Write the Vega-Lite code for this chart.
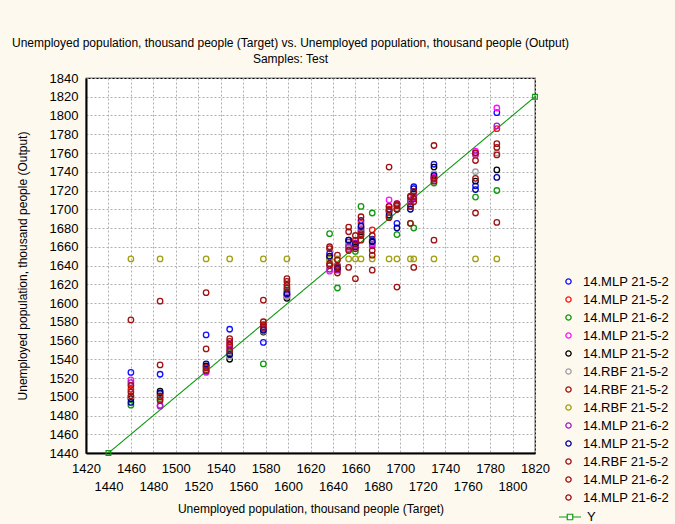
{
  "$schema": "https://vega.github.io/schema/vega-lite/v6.json",
  "width": 449,
  "height": 375,
  "autosize": {"type": "none"},
  "padding": {"left": 86, "top": 78, "right": 140, "bottom": 71},
  "background": "#fdf9ef",
  "config": {
    "view": {"fill": "#ffffff", "stroke": "#000000", "strokeWidth": 1.2},
    "font": "Liberation Sans"
  },
  "title": {
    "text": ["Unemployed population, thousand people (Target) vs. Unemployed population, thousand people (Output)", "Samples: Test"],
    "font": "Liberation Sans",
    "fontSize": 12,
    "fontWeight": "normal",
    "color": "#000000",
    "anchor": "middle",
    "frame": "group",
    "dx": -20,
    "offset": 6,
    "lineHeight": 16
  },
  "datasets": {
    "yline": [
      {"t": 1440, "o": 1440, "k": "Y"},
      {"t": 1820, "o": 1820, "k": "Y"}
    ],
    "pts": [
      {"s":1,"t":1460,"o":1526},{"s":1,"t":1486,"o":1524},{"s":1,"t":1527,"o":1566},{"s":1,"t":1548,"o":1572},{"s":1,"t":1578,"o":1558},{"s":1,"t":1599,"o":1612},{"s":1,"t":1637,"o":1653},{"s":1,"t":1644,"o":1640},{"s":1,"t":1654,"o":1662},{"s":1,"t":1660,"o":1660},{"s":1,"t":1665,"o":1688},{"s":1,"t":1675,"o":1668},{"s":1,"t":1690,"o":1697},{"s":1,"t":1697,"o":1685},{"s":1,"t":1709,"o":1703},{"s":1,"t":1712,"o":1724},{"s":1,"t":1730,"o":1748},{"s":1,"t":1767,"o":1725},{"s":1,"t":1786,"o":1803},
      {"s":2,"t":1460,"o":1508},{"s":2,"t":1486,"o":1503},{"s":2,"t":1527,"o":1532},{"s":2,"t":1548,"o":1553},{"s":2,"t":1578,"o":1576},{"s":2,"t":1599,"o":1609},{"s":2,"t":1637,"o":1650},{"s":2,"t":1644,"o":1636},{"s":2,"t":1654,"o":1665},{"s":2,"t":1660,"o":1662},{"s":2,"t":1665,"o":1685},{"s":2,"t":1675,"o":1678},{"s":2,"t":1690,"o":1700},{"s":2,"t":1697,"o":1704},{"s":2,"t":1709,"o":1708},{"s":2,"t":1712,"o":1716},{"s":2,"t":1730,"o":1734},{"s":2,"t":1767,"o":1760},{"s":2,"t":1786,"o":1786},
      {"s":3,"t":1460,"o":1491},{"s":3,"t":1486,"o":1498},{"s":3,"t":1527,"o":1529},{"s":3,"t":1548,"o":1547},{"s":3,"t":1578,"o":1535},{"s":3,"t":1599,"o":1614},{"s":3,"t":1637,"o":1674},{"s":3,"t":1644,"o":1616},{"s":3,"t":1654,"o":1660},{"s":3,"t":1660,"o":1655},{"s":3,"t":1665,"o":1703},{"s":3,"t":1675,"o":1696},{"s":3,"t":1690,"o":1692},{"s":3,"t":1697,"o":1673},{"s":3,"t":1709,"o":1685},{"s":3,"t":1712,"o":1680},{"s":3,"t":1730,"o":1728},{"s":3,"t":1767,"o":1713},{"s":3,"t":1786,"o":1720},
      {"s":4,"t":1460,"o":1518},{"s":4,"t":1486,"o":1491},{"s":4,"t":1527,"o":1526},{"s":4,"t":1548,"o":1557},{"s":4,"t":1578,"o":1573},{"s":4,"t":1599,"o":1607},{"s":4,"t":1637,"o":1634},{"s":4,"t":1644,"o":1638},{"s":4,"t":1654,"o":1658},{"s":4,"t":1660,"o":1664},{"s":4,"t":1665,"o":1680},{"s":4,"t":1675,"o":1663},{"s":4,"t":1690,"o":1710},{"s":4,"t":1697,"o":1706},{"s":4,"t":1709,"o":1710},{"s":4,"t":1712,"o":1712},{"s":4,"t":1730,"o":1734},{"s":4,"t":1767,"o":1762},{"s":4,"t":1786,"o":1808},
      {"s":5,"t":1460,"o":1498},{"s":5,"t":1486,"o":1506},{"s":5,"t":1527,"o":1533},{"s":5,"t":1548,"o":1540},{"s":5,"t":1578,"o":1569},{"s":5,"t":1599,"o":1605},{"s":5,"t":1637,"o":1648},{"s":5,"t":1644,"o":1639},{"s":5,"t":1654,"o":1667},{"s":5,"t":1660,"o":1660},{"s":5,"t":1665,"o":1676},{"s":5,"t":1675,"o":1665},{"s":5,"t":1690,"o":1699},{"s":5,"t":1697,"o":1700},{"s":5,"t":1709,"o":1706},{"s":5,"t":1712,"o":1718},{"s":5,"t":1730,"o":1745},{"s":5,"t":1767,"o":1730},{"s":5,"t":1786,"o":1742},
      {"s":6,"t":1460,"o":1500},{"s":6,"t":1486,"o":1502},{"s":6,"t":1527,"o":1530},{"s":6,"t":1548,"o":1543},{"s":6,"t":1578,"o":1570},{"s":6,"t":1599,"o":1607},{"s":6,"t":1637,"o":1645},{"s":6,"t":1644,"o":1640},{"s":6,"t":1654,"o":1663},{"s":6,"t":1660,"o":1662},{"s":6,"t":1665,"o":1680},{"s":6,"t":1675,"o":1667},{"s":6,"t":1690,"o":1698},{"s":6,"t":1697,"o":1702},{"s":6,"t":1709,"o":1707},{"s":6,"t":1712,"o":1715},{"s":6,"t":1730,"o":1738},{"s":6,"t":1767,"o":1740},{"s":6,"t":1786,"o":1760},
      {"s":7,"t":1460,"o":1582},{"s":7,"t":1486,"o":1602},{"s":7,"t":1527,"o":1611},{"s":7,"t":1548,"o":1562},{"s":7,"t":1578,"o":1603},{"s":7,"t":1599,"o":1626},{"s":7,"t":1637,"o":1660},{"s":7,"t":1644,"o":1651},{"s":7,"t":1654,"o":1681},{"s":7,"t":1660,"o":1626},{"s":7,"t":1665,"o":1692},{"s":7,"t":1675,"o":1672},{"s":7,"t":1690,"o":1745},{"s":7,"t":1697,"o":1617},{"s":7,"t":1709,"o":1714},{"s":7,"t":1712,"o":1638},{"s":7,"t":1730,"o":1768},{"s":7,"t":1767,"o":1752},{"s":7,"t":1786,"o":1770},
      {"s":8,"t":1460,"o":1647},{"s":8,"t":1486,"o":1647},{"s":8,"t":1527,"o":1647},{"s":8,"t":1548,"o":1647},{"s":8,"t":1578,"o":1647},{"s":8,"t":1599,"o":1647},{"s":8,"t":1637,"o":1647},{"s":8,"t":1644,"o":1647},{"s":8,"t":1654,"o":1647},{"s":8,"t":1660,"o":1647},{"s":8,"t":1665,"o":1647},{"s":8,"t":1675,"o":1647},{"s":8,"t":1690,"o":1647},{"s":8,"t":1697,"o":1647},{"s":8,"t":1709,"o":1647},{"s":8,"t":1712,"o":1647},{"s":8,"t":1730,"o":1647},{"s":8,"t":1767,"o":1647},{"s":8,"t":1786,"o":1647},
      {"s":9,"t":1460,"o":1515},{"s":9,"t":1486,"o":1490},{"s":9,"t":1527,"o":1527},{"s":9,"t":1548,"o":1551},{"s":9,"t":1578,"o":1572},{"s":9,"t":1599,"o":1609},{"s":9,"t":1637,"o":1636},{"s":9,"t":1644,"o":1635},{"s":9,"t":1654,"o":1660},{"s":9,"t":1660,"o":1661},{"s":9,"t":1665,"o":1678},{"s":9,"t":1675,"o":1661},{"s":9,"t":1690,"o":1703},{"s":9,"t":1697,"o":1705},{"s":9,"t":1709,"o":1708},{"s":9,"t":1712,"o":1714},{"s":9,"t":1730,"o":1732},{"s":9,"t":1767,"o":1758},{"s":9,"t":1786,"o":1789},
      {"s":10,"t":1460,"o":1494},{"s":10,"t":1486,"o":1504},{"s":10,"t":1527,"o":1535},{"s":10,"t":1548,"o":1545},{"s":10,"t":1578,"o":1571},{"s":10,"t":1599,"o":1610},{"s":10,"t":1637,"o":1650},{"s":10,"t":1644,"o":1637},{"s":10,"t":1654,"o":1667},{"s":10,"t":1660,"o":1663},{"s":10,"t":1665,"o":1682},{"s":10,"t":1675,"o":1666},{"s":10,"t":1690,"o":1694},{"s":10,"t":1697,"o":1680},{"s":10,"t":1709,"o":1700},{"s":10,"t":1712,"o":1722},{"s":10,"t":1730,"o":1736},{"s":10,"t":1767,"o":1721},{"s":10,"t":1786,"o":1734},
      {"s":11,"t":1460,"o":1512},{"s":11,"t":1486,"o":1534},{"s":11,"t":1527,"o":1551},{"s":11,"t":1548,"o":1549},{"s":11,"t":1578,"o":1580},{"s":11,"t":1599,"o":1623},{"s":11,"t":1637,"o":1658},{"s":11,"t":1644,"o":1646},{"s":11,"t":1654,"o":1676},{"s":11,"t":1660,"o":1672},{"s":11,"t":1665,"o":1672},{"s":11,"t":1675,"o":1656},{"s":11,"t":1690,"o":1703},{"s":11,"t":1697,"o":1706},{"s":11,"t":1709,"o":1685},{"s":11,"t":1712,"o":1719},{"s":11,"t":1730,"o":1667},{"s":11,"t":1767,"o":1696},{"s":11,"t":1786,"o":1686},
      {"s":12,"t":1460,"o":1505},{"s":12,"t":1486,"o":1500},{"s":12,"t":1527,"o":1531},{"s":12,"t":1548,"o":1555},{"s":12,"t":1578,"o":1577},{"s":12,"t":1599,"o":1616},{"s":12,"t":1637,"o":1642},{"s":12,"t":1644,"o":1639},{"s":12,"t":1654,"o":1656},{"s":12,"t":1660,"o":1667},{"s":12,"t":1665,"o":1667},{"s":12,"t":1675,"o":1651},{"s":12,"t":1690,"o":1699},{"s":12,"t":1697,"o":1704},{"s":12,"t":1709,"o":1713},{"s":12,"t":1712,"o":1708},{"s":12,"t":1730,"o":1730},{"s":12,"t":1767,"o":1733},{"s":12,"t":1786,"o":1758},
      {"s":13,"t":1460,"o":1501},{"s":13,"t":1486,"o":1496},{"s":13,"t":1527,"o":1528},{"s":13,"t":1548,"o":1559},{"s":13,"t":1578,"o":1574},{"s":13,"t":1599,"o":1619},{"s":13,"t":1637,"o":1640},{"s":13,"t":1644,"o":1632},{"s":13,"t":1654,"o":1638},{"s":13,"t":1660,"o":1658},{"s":13,"t":1665,"o":1674},{"s":13,"t":1675,"o":1635},{"s":13,"t":1690,"o":1691},{"s":13,"t":1697,"o":1700},{"s":13,"t":1709,"o":1703},{"s":13,"t":1712,"o":1711},{"s":13,"t":1730,"o":1733},{"s":13,"t":1767,"o":1760},{"s":13,"t":1786,"o":1766}
    ]
  },
  "encoding": {
    "x": {
      "field": "t", "type": "quantitative",
      "scale": {"domain": [1420, 1820], "nice": false, "zero": false},
      "axis": {
        "values": [1420,1440,1460,1480,1500,1520,1540,1560,1580,1600,1620,1640,1660,1680,1700,1720,1740,1760,1780,1800,1820],
        "format": "d",
        "title": "Unemployed population, thousand people (Target)",
        "titleFont": "Liberation Sans", "titleFontSize": 12, "titleFontWeight": "normal", "titleColor": "#000000", "titlePadding": 10,
        "labelFont": "Liberation Sans", "labelFontSize": 13, "labelColor": "#000000",
        "labelExpr": "datum.value % 40 == 20 ? datum.label : ['', datum.label]",
        "labelLineHeight": 18, "labelBaseline": "top",
        "labelPadding": 9, "labelFlush": false, "labelOverlap": false, "labelBound": false,
        "ticks": false, "domainColor": "#000000", "domainWidth": 2,
        "grid": true, "gridColor": "#b0b0b0", "gridDash": [2, 2], "gridWidth": 1
      }
    },
    "y": {
      "field": "o", "type": "quantitative",
      "scale": {"domain": [1440, 1840], "nice": false, "zero": false},
      "axis": {
        "values": [1440,1460,1480,1500,1520,1540,1560,1580,1600,1620,1640,1660,1680,1700,1720,1740,1760,1780,1800,1820,1840],
        "format": "d",
        "title": "Unemployed population, thousand people (Output)",
        "titleFont": "Liberation Sans", "titleFontSize": 12, "titleFontWeight": "normal", "titleColor": "#000000", "titlePadding": 20,
        "labelFont": "Liberation Sans", "labelFontSize": 13, "labelColor": "#000000",
        "labelPadding": 8, "labelOverlap": false, "labelBound": false, "labelFlush": false,
        "ticks": false, "domainColor": "#000000", "domainWidth": 2,
        "grid": true, "gridColor": "#b0b0b0", "gridDash": [2, 2], "gridWidth": 1
      }
    }
  },
  "layer": [
    {
      "data": {"name": "yline"},
      "mark": {"type": "line", "color": "#109910", "strokeWidth": 1.1},
      "encoding": {
        "strokeDash": {
          "field": "k", "type": "nominal",
          "scale": {"domain": ["Y"], "range": [[1, 0]]},
          "legend": {
            "orient": "none", "legendX": 472, "legendY": 427, "title": null, "padding": 0,
            "symbolType": "M-1,0L-0.25,0M0.25,0L1,0M-0.25,-0.25L0.25,-0.25L0.25,0.25L-0.25,0.25Z",
            "symbolSize": 484, "symbolStrokeColor": "#109910", "symbolStrokeWidth": 1.2, "symbolFillColor": "#ffffff",
            "labelFont": "Liberation Sans", "labelFontSize": 13, "labelColor": "#000000", "labelOffset": 5
          }
        }
      }
    },
    {
      "data": {"name": "yline"},
      "mark": {"type": "point", "shape": "square", "filled": false, "color": "#109910", "size": 22, "strokeWidth": 1.2, "opacity": 1},
      "encoding": {}
    },
    {
      "data": {"name": "pts"},
      "mark": {"type": "point", "shape": "circle", "filled": false, "size": 30, "strokeWidth": 1.3, "opacity": 1},
      "encoding": {
        "color": {
          "field": "s", "type": "nominal",
          "scale": {
            "domain": [1,2,3,4,5,6,7,8,9,10,11,12,13],
            "range": ["#1010ff","#ff1010","#109910","#ff10ff","#000000","#a0a0a0","#a01010","#a0a010","#a020c0","#000099","#a01010","#a01010","#a01010"]
          },
          "legend": {
            "orient": "none", "legendX": 476, "legendY": 197, "title": null, "padding": 0,
            "labelExpr": "['', '14.MLP 21-5-2', '14.MLP 21-5-2', '14.MLP 21-6-2', '14.MLP 21-5-2', '14.MLP 21-5-2', '14.RBF 21-5-2', '14.RBF 21-5-2', '14.RBF 21-5-2', '14.MLP 21-6-2', '14.MLP 21-5-2', '14.RBF 21-5-2', '14.MLP 21-6-2', '14.MLP 21-6-2'][datum.value]",
            "labelFont": "Liberation Sans", "labelFontSize": 13, "labelColor": "#000000", "labelOffset": 8, "labelLimit": 300,
            "rowPadding": 4, "symbolType": "circle", "symbolSize": 28, "symbolStrokeWidth": 1.3
          }
        }
      }
    }
  ]
}
